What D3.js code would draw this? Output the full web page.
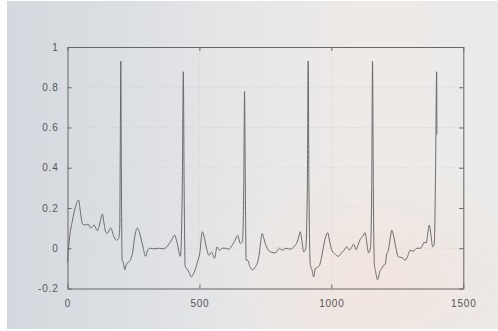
<!DOCTYPE html>
<html>
<head>
<meta charset="utf-8">
<script src="https://cdn.jsdelivr.net/npm/d3@7"></script>
<style>
  html, body { margin: 0; padding: 0; background: #ffffff; }
  svg { display: block; }
</style>
</head>
<body>
<svg id="chart" width="498" height="331"></svg>
<script>
// ECG trace: sample index and amplitude at each keypoint
const sampleIdx = [
  0, 6, 19, 29, 42, 50, 57, 69, 78, 88, 101, 113, 122, 132, 139, 145, 151, 164, 176, 186, 194,
  198, 200, 202, 204, 207,
  211, 217, 224, 232, 246, 255, 265, 272, 277, 287, 296, 305, 315, 326, 345, 364, 384, 394, 406, 416, 428,
  435, 439, 442, 446,
  451, 460, 469, 476, 483, 492, 501, 511, 519, 527, 536, 546, 557, 567, 576, 587, 599, 610, 628, 637, 645, 655, 663,
  668, 671, 674, 677,
  683, 691, 700, 712, 725, 731, 738, 744, 750, 759, 769, 788, 796, 804, 813, 829, 844, 860, 870, 877, 882, 888, 895, 903,
  909, 912, 915, 920,
  927, 933, 939, 947, 955, 962, 970, 979, 986, 994, 1002, 1015, 1027, 1037, 1046, 1059, 1068, 1075, 1084, 1094, 1102, 1109, 1119, 1128, 1134, 1141, 1148,
  1153, 1156, 1159, 1163,
  1168, 1175, 1185, 1191, 1197, 1204, 1210, 1216, 1223, 1229, 1236, 1242, 1254, 1264, 1272, 1279, 1289, 1298, 1310, 1324, 1336, 1344, 1351, 1359, 1365, 1371, 1378, 1384, 1390,
  1395, 1399, 1400
];
const ecgValues = [
  -0.07, 0.03, 0.14, 0.20, 0.24, 0.17, 0.12, 0.115, 0.12, 0.10, 0.115, 0.087, 0.12, 0.17, 0.12, 0.08, 0.075, 0.10, 0.057, 0.04, 0.05,
  0.10, 0.50, 0.93, 0.40, -0.06,
  -0.07, -0.107, -0.077, -0.07, -0.027, 0.06, 0.10, 0.08, 0.057, 0.0, -0.04, -0.007, 0.0, -0.003, 0.0, -0.003, 0.02, 0.04, 0.065, 0.023, -0.04,
  0.30, 0.877, 0.30, -0.09,
  -0.10, -0.118, -0.143, -0.13, -0.11, -0.07, -0.027, 0.082, 0.05, 0.0, -0.035, -0.02, -0.05, 0.007, -0.01, 0.0, 0.0, -0.005, 0.023, 0.045, 0.065, 0.023, 0.035,
  0.30, 0.78, 0.30, -0.06,
  -0.06, -0.09, -0.107, -0.093, -0.043, 0.02, 0.073, 0.05, 0.023, -0.005, -0.018, -0.023, -0.01, 0.0, -0.01, 0.0, -0.005, 0.01, 0.03, 0.06, 0.082, 0.04, -0.018, 0.0,
  0.30, 0.93, 0.30, -0.08,
  -0.11, -0.143, -0.10, -0.095, -0.085, -0.05, 0.007, 0.06, 0.077, 0.03, -0.01, -0.03, -0.04, -0.025, -0.013, 0.007, -0.01, 0.0, 0.02, -0.007, 0.02, 0.043, 0.06, 0.077, 0.03, -0.023, 0.0,
  0.30, 0.93, 0.30, -0.08,
  -0.118, -0.157, -0.11, -0.10, -0.085, -0.08, -0.027, -0.01, 0.05, 0.09, 0.06, 0.02, -0.043, -0.045, -0.05, -0.06, -0.04, -0.01, -0.015, 0.0, 0.0, 0.01, 0.03, 0.025, 0.07, 0.115, 0.06, 0.007, 0.02,
  0.40, 0.877, 0.565
];

const xTicks = [0, 500, 1000, 1500];
const xTickLabels = ["0", "500", "1000", "1500"];
const yTicks = [-0.2, 0, 0.2, 0.4, 0.6, 0.8, 1];
const yTickLabels = ["-0.2", "0", "0.2", "0.4", "0.6", "0.8", "1"];

const svg = d3.select("#chart");
const W = 498, H = 331;
const plot = { left: 67.5, right: 463.3, top: 47, bottom: 288.5 };

// soft backdrop, cool on the left and warm on the right
const defs = svg.append("defs");
const bg = defs.append("linearGradient").attr("id", "bg").attr("x1", "0").attr("x2", "1").attr("y1", "0").attr("y2", "0");
[["0%", "#d4d9df"], ["25%", "#dcdfe3"], ["50%", "#e7e7e8"], ["72%", "#eeeae7"], ["100%", "#ebeae9"]]
  .forEach(([o, c]) => bg.append("stop").attr("offset", o).attr("stop-color", c));
const warm = defs.append("radialGradient").attr("id", "warm").attr("cx", "0.75").attr("cy", "0.85").attr("r", "0.35");
warm.append("stop").attr("offset", "0%").attr("stop-color", "#f2e4dc").attr("stop-opacity", 0.8);
warm.append("stop").attr("offset", "100%").attr("stop-color", "#f2e4dc").attr("stop-opacity", 0);

svg.append("rect").attr("x", 7).attr("y", 1).attr("width", W - 7).attr("height", 328).attr("fill", "url(#bg)");
svg.append("rect").attr("x", 7).attr("y", 1).attr("width", W - 7).attr("height", 328).attr("fill", "url(#warm)");

const x = d3.scaleLinear().domain([0, 1500]).range([plot.left, plot.right]);
const y = d3.scaleLinear().domain([-0.2, 1]).range([plot.bottom, plot.top]);

// faint dotted grid
const grid = svg.append("g").attr("stroke", "#bdbdbd").attr("stroke-dasharray", "1,2").attr("stroke-width", 0.7).attr("opacity", 0.6);
xTicks.slice(1, -1).forEach(t => grid.append("line").attr("x1", x(t)).attr("x2", x(t)).attr("y1", plot.top).attr("y2", plot.bottom));
yTicks.slice(1, -1).forEach(t => grid.append("line").attr("x1", plot.left).attr("x2", plot.right).attr("y1", y(t)).attr("y2", y(t)));

// signal
const pts = sampleIdx.map((s, i) => [s, ecgValues[i]]);
const line = d3.line().x(d => x(d[0])).y(d => y(d[1])).curve(d3.curveMonotoneX);
svg.append("path").datum(pts).attr("d", line).attr("fill", "none").attr("stroke", "#6b6b6b").attr("stroke-width", 1).attr("stroke-linejoin", "round");

// axes: inward ticks on every side, labels on the left and bottom
const tickLen = -4;
const fmtX = (d, i) => xTickLabels[i];
const fmtY = (d, i) => yTickLabels[i];

function styleAxis(g) {
  g.select(".domain").attr("stroke", "#666").attr("stroke-width", 1);
  g.selectAll(".tick line").attr("stroke", "#666");
  g.selectAll(".tick text").attr("fill", "#555").style("font-family", "'Liberation Sans', Arial, sans-serif").style("font-size", "10px").style("letter-spacing", "0.8px");
}

svg.append("g").attr("transform", `translate(0,${plot.bottom})`)
  .call(d3.axisBottom(x).tickValues(xTicks).tickFormat(fmtX).tickSizeInner(tickLen).tickSizeOuter(0).tickPadding(11))
  .call(styleAxis);
svg.append("g").attr("transform", `translate(0,${plot.top})`)
  .call(d3.axisTop(x).tickValues(xTicks).tickFormat("").tickSizeInner(tickLen).tickSizeOuter(0))
  .call(styleAxis);
svg.append("g").attr("transform", `translate(${plot.left},0)`)
  .call(d3.axisLeft(y).tickValues(yTicks).tickFormat(fmtY).tickSizeInner(tickLen).tickSizeOuter(0).tickPadding(9))
  .call(styleAxis);
svg.append("g").attr("transform", `translate(${plot.right},0)`)
  .call(d3.axisRight(y).tickValues(yTicks).tickFormat("").tickSizeInner(tickLen).tickSizeOuter(0))
  .call(styleAxis);
</script>
</body>
</html>
